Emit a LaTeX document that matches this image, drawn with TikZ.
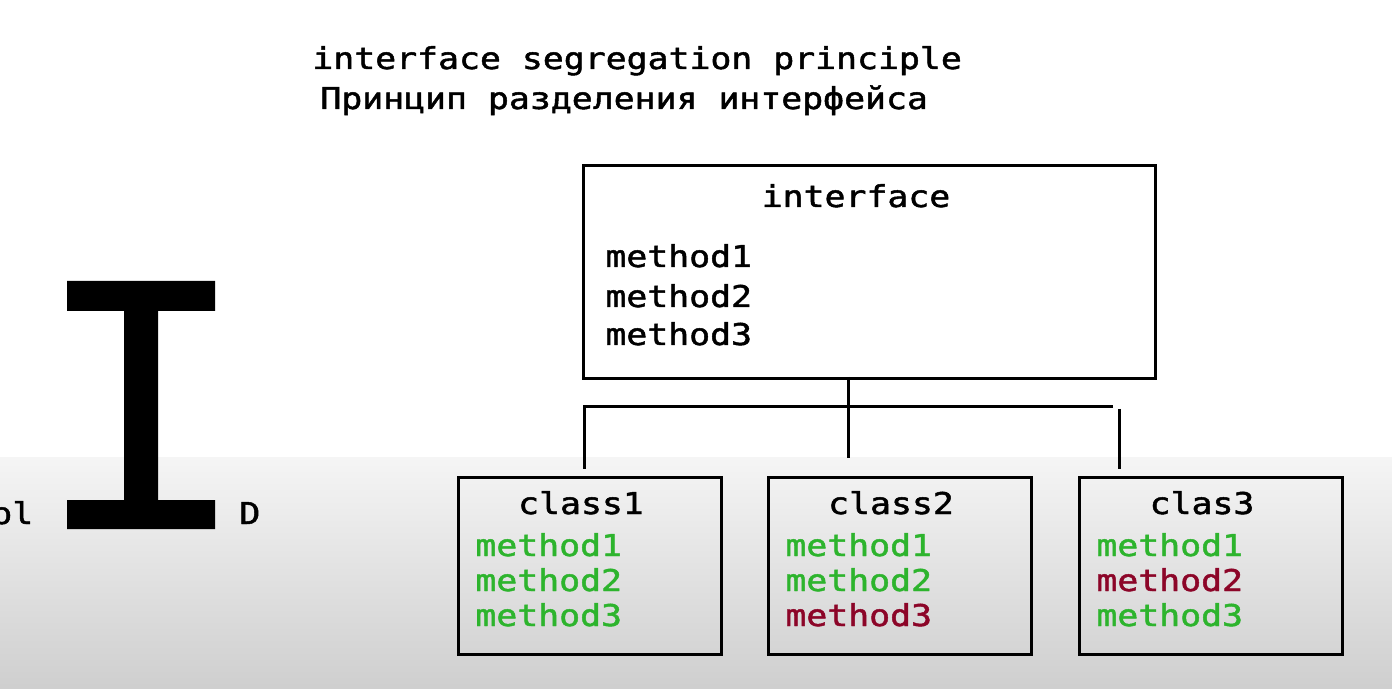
\documentclass[tikz,border=0pt]{standalone}
\usepackage{fontspec}
\setmainfont{DejaVu Sans Mono}[FakeStretch=1.16,FakeBold=1.6]
\usetikzlibrary{positioning}
\definecolor{okgreen}{RGB}{45,180,45}
\definecolor{badred}{RGB}{140,5,40}

\begin{document}
\begin{tikzpicture}[x=0.5pt,y=-0.5pt,
  txt/.style={inner sep=0pt,anchor=base west,font=\fontsize{15}{18}\selectfont},
  box/.style={draw,line width=1.5pt,anchor=north west,inner sep=0pt},
  wire/.style={line width=1.5pt}]

%=== фон ===
\clip (0,0) rectangle (1392,689);
\fill[white] (0,0) rectangle (1392,689);
\shade[top color=gray!8,bottom color=gray!38] (0,458) rectangle (1392,689);

%=== заголовок ===
\node[txt] (title) at (312,69) {interface segregation principle};
\node[txt] (titleru) at (320,109) {Принцип разделения интерфейса};

%=== буква I ===
\fill (67,281) -| (215,311) -| (158,500) -| (215,529)
  -| (67,500) -| (124,311) -| cycle;
\node[txt] (prev) at (-9,524) {ol};
\node[txt] (next) at (239,524) {D};

%=== интерфейс ===
\node[box,minimum width=286pt,minimum height=106.5pt] (iface) at (582,164) {};
\node[txt,anchor=base] (ifname) at (856,207) {interface};
\foreach \k/\yb in {1/267,2/307,3/345}
  \node[txt] (im\k) at (605,\yb) {method\k};

%=== классы ===
\foreach \n/\xl/\lab/\ca/\cb/\cc in
  {1/457/class1/okgreen/okgreen/okgreen,
   2/767/class2/okgreen/okgreen/badred,
   3/1078/clas3/okgreen/badred/okgreen}{
  \node[box,minimum width=131.5pt,minimum height=88.5pt] (cls\n) at (\xl,476) {};
  \node[txt,anchor=base] (cname\n) at (\xl+124,514) {\lab};
  \foreach \m/\col/\yb in {1/\ca/556,2/\cb/591,3/\cc/626}
    \node[txt,text=\col] (cm\n\m) at (\xl+18,\yb) {method\m};
}

%=== связи ===
\coordinate (busL) at (584,407);
\coordinate (busR) at (1113,407);
\coordinate (tapM) at (848,377);
\coordinate (tapR) at (1119,409);
\draw[wire,shorten >=3.5pt] (busR) -- (busL) -- (busL |- cls1.north);
\draw[wire,shorten >=9pt] (tapM) -- (tapM |- cls2.north);
\draw[wire,shorten >=3.5pt] (tapR) -- (tapR |- cls3.north);

\end{tikzpicture}
\end{document}
